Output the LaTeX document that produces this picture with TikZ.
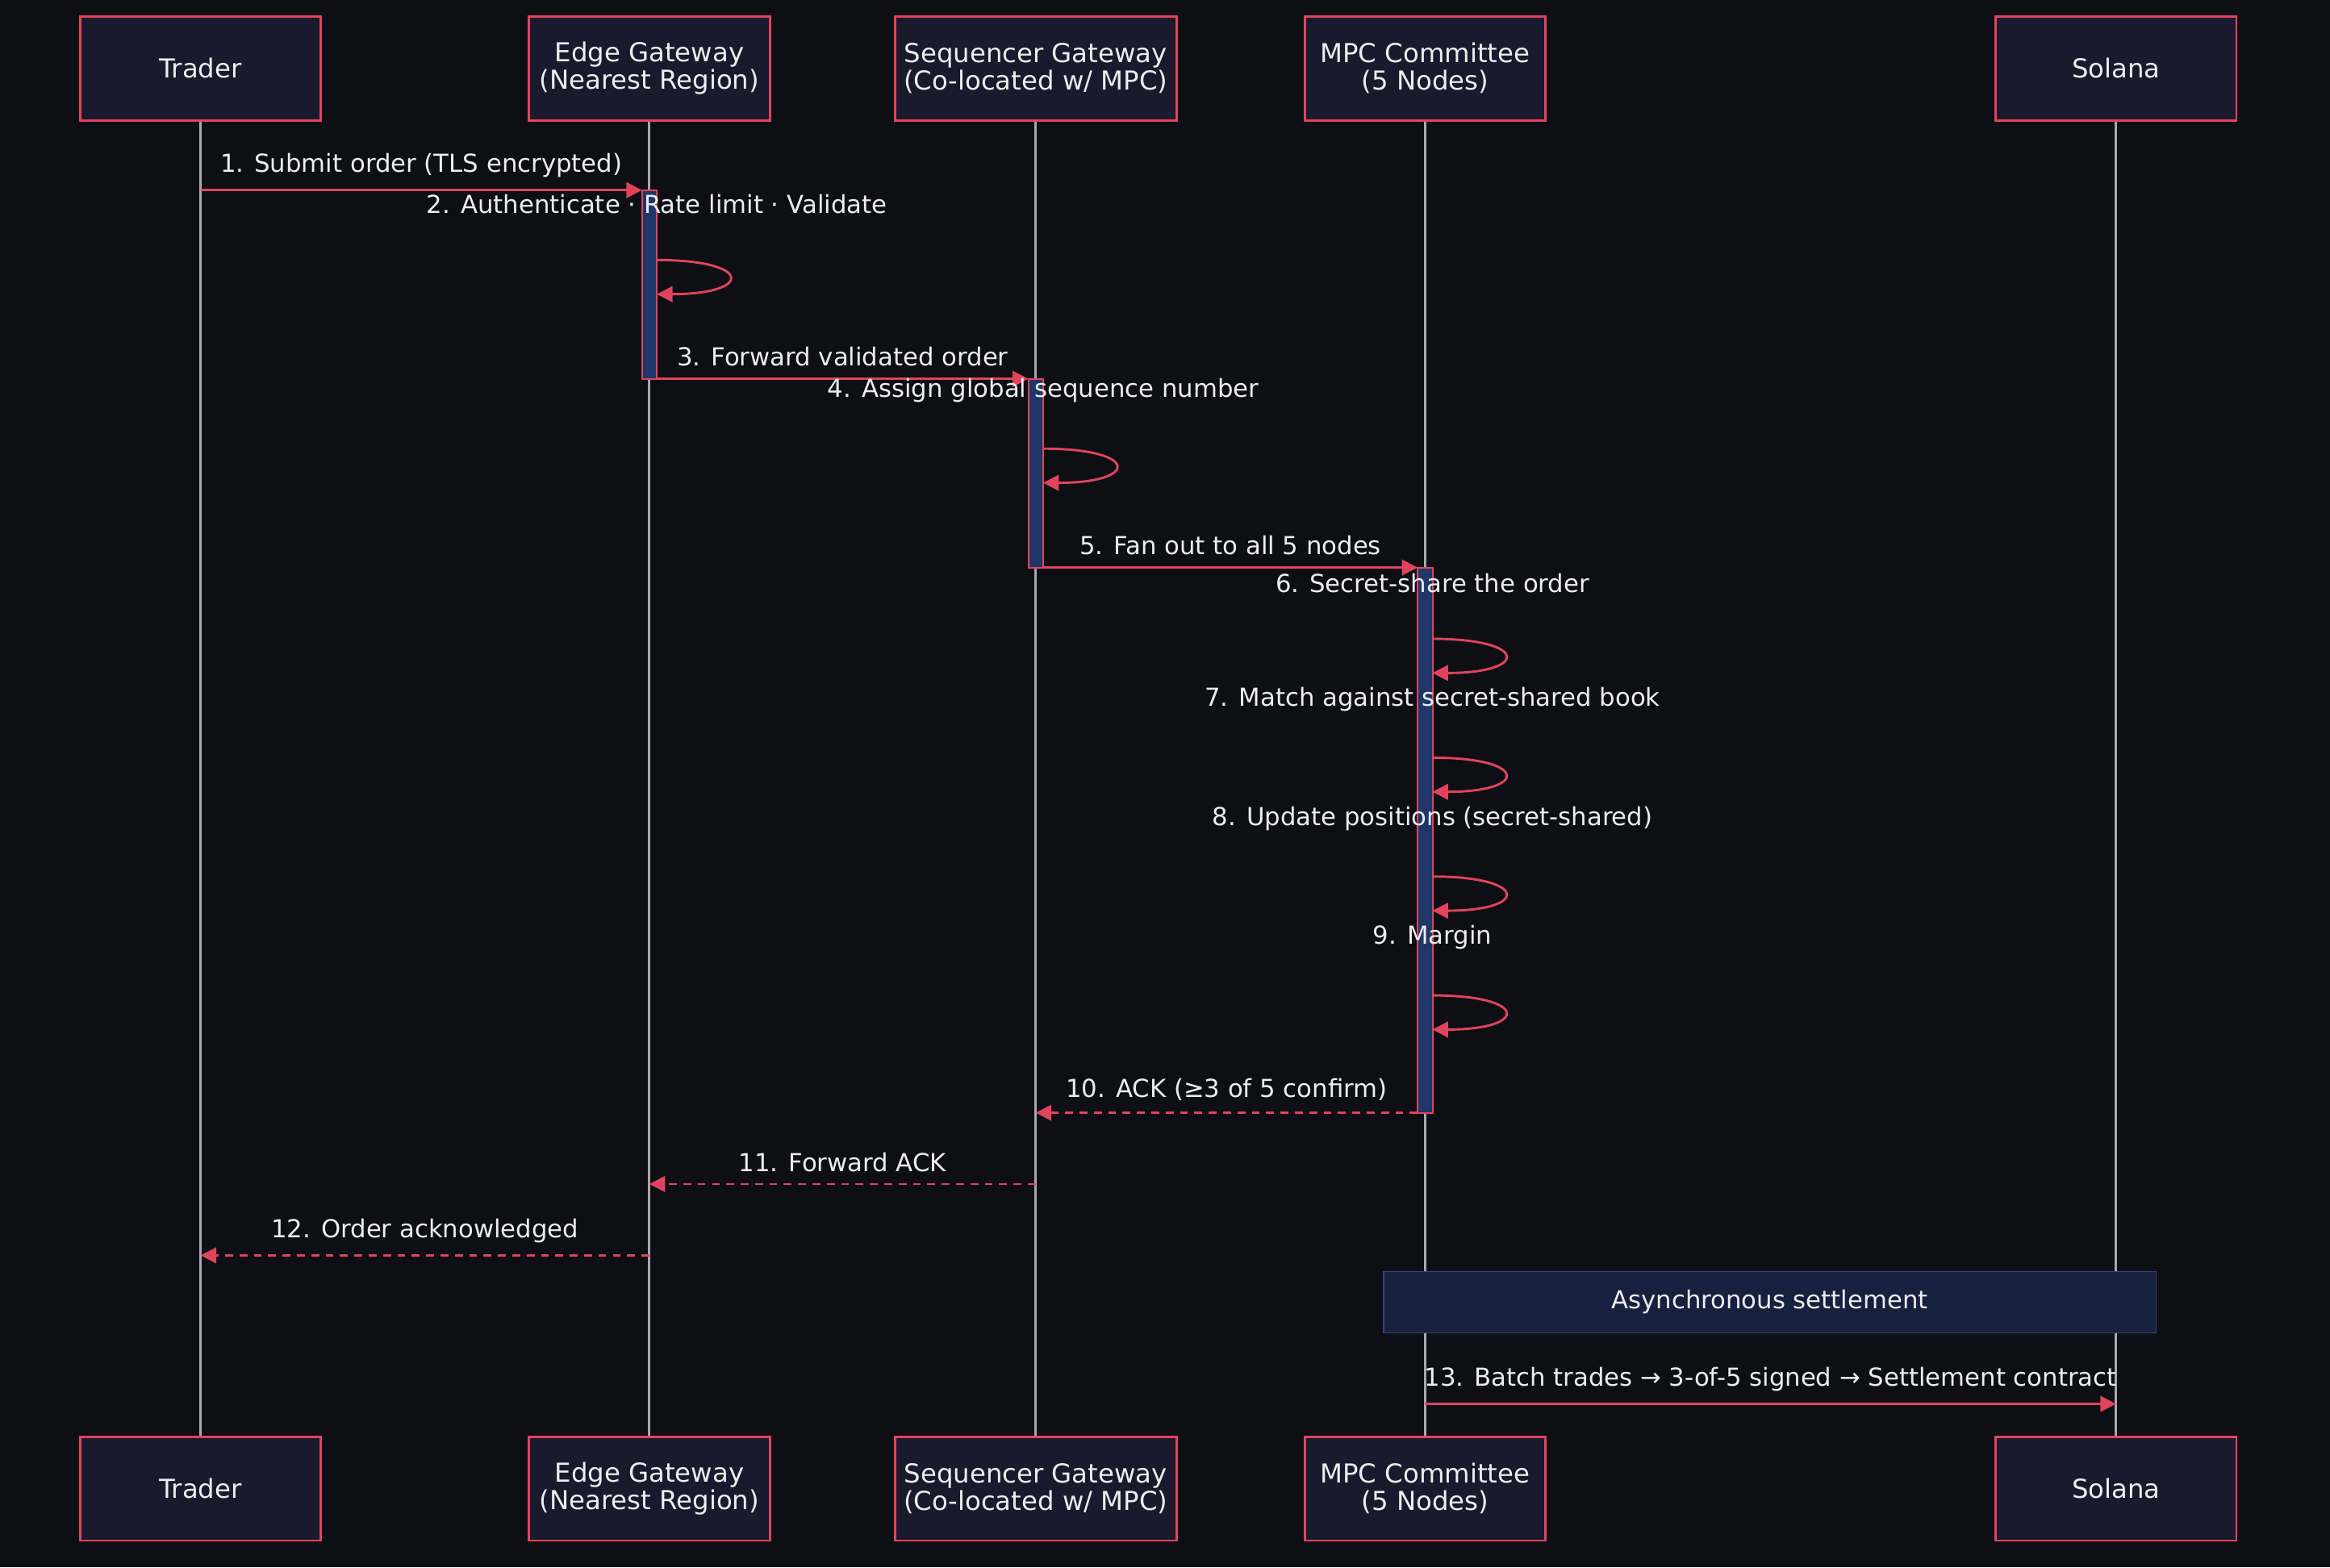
\documentclass[tikz,border=0pt]{standalone}
\usepackage{fontspec}
\setmainfont{DejaVu Sans}
\usetikzlibrary{arrows.meta,calc}
\definecolor{bgc}{HTML}{0D0F15}
\definecolor{boxc}{HTML}{1A1A2E}
\definecolor{redc}{HTML}{E2435C}
\definecolor{linec}{HTML}{A8A8B0}
\definecolor{actc}{HTML}{1F3768}
\definecolor{notec}{HTML}{17203F}
\definecolor{noteb}{HTML}{3B4180}
\definecolor{txtc}{HTML}{EDEDED}
\tikzset{
  actor/.style={draw=redc,fill=boxc,line width=0.9pt,minimum width=3.24cm,minimum height=1.4cm,
    text=txtc,align=center,font=\fontsize{10}{10.5}\selectfont},
  msg/.style={draw=redc,line width=0.9pt,-{Triangle[length=6pt,width=6pt]}},
  reply/.style={msg,dash pattern=on 3pt off 2.5pt},
  lbl/.style={text=txtc,font=\fontsize{9.5}{11}\selectfont,above=1pt},
  act/.style={draw=redc,fill=actc,line width=0.6pt}
}
\begin{document}
\begin{tikzpicture}[x=0.02cm,y=-0.02cm]
\fill[bgc] (0,0) rectangle (1568,1055);
\useasboundingbox (0,0) rectangle (1568,1055);
% lifelines and actors
\foreach \n/\x/\t in {tr/135/Trader,eg/437/{Edge Gateway\\(Nearest Region)},sg/697/{Sequencer Gateway\\(Co-located w/ MPC)},mpc/959/{MPC Committee\\(5 Nodes)},sol/1424/Solana}{
  \node[actor] (\n top) at (\x,46) {\t};
  \node[actor] (\n bot) at (\x,1002) {\t};
  \draw[linec,line width=0.9pt] (\n top.south) -- (\n bot.north);
}
% activations
\draw[act] (432,128) rectangle (442,255);
\draw[act] (692,255) rectangle (702,382);
\draw[act] (954,382) rectangle (964,749);
% note
\node[draw=noteb,fill=notec,minimum width=10.4cm,minimum height=0.82cm,text=txtc,
  font=\fontsize{9.5}{11}\selectfont] (note) at (1191,876.5) {Asynchronous settlement};
% messages
\coordinate (m1a) at (135,128); \coordinate (m1b) at (432,128);
\draw[msg] (m1a) -- node[lbl] {1. Submit order (TLS encrypted)} (m1b);
\coordinate (m2a) at (442,175); \coordinate (m2b) at (442,198);
\node[lbl] at (442,152) {2. Authenticate · Rate limit · Validate};
\draw[msg] (m2a) .. controls +(65,0) and +(65,0) .. (m2b);
\coordinate (m3a) at (442,255); \coordinate (m3b) at (692,255);
\draw[msg] (m3a) -- node[lbl] {3. Forward validated order} (m3b);
\coordinate (m4a) at (702,302); \coordinate (m4b) at (702,325);
\node[lbl] at (702,279) {4. Assign global sequence number};
\draw[msg] (m4a) .. controls +(65,0) and +(65,0) .. (m4b);
\coordinate (m5a) at (702,382); \coordinate (m5b) at (954,382);
\draw[msg] (m5a) -- node[lbl] {5. Fan out to all 5 nodes} (m5b);
\foreach \y/\t in {430/6. Secret-share the order,510/7. Match against secret-shared book,
  590/8. Update positions (secret-shared),670/9. Margin / risk check}{
  \node[lbl] at (964,\y-23) {\t};
  \draw[msg] (964,\y) .. controls +(65,0) and +(65,0) .. (964,\y+23);
}
\coordinate (m10a) at (954,749); \coordinate (m10b) at (697,749);
\draw[reply] (m10a) -- node[lbl] {10. ACK (≥3 of 5 confirm)} (m10b);
\draw[reply] (sgtop.south |- 0,797) coordinate (m11a) -- node[lbl] {11. Forward ACK} (egtop.south |- 0,797);
\draw[reply] (egtop.south |- 0,845) coordinate (m12a) -- node[lbl] {12. Order acknowledged} (trtop.south |- 0,845);
\draw[msg] (mpctop.south |- 0,945) -- node[lbl] {13. Batch trades → 3-of-5 signed → Settlement contract} (soltop.south |- 0,945);
\end{tikzpicture}
\end{document}
